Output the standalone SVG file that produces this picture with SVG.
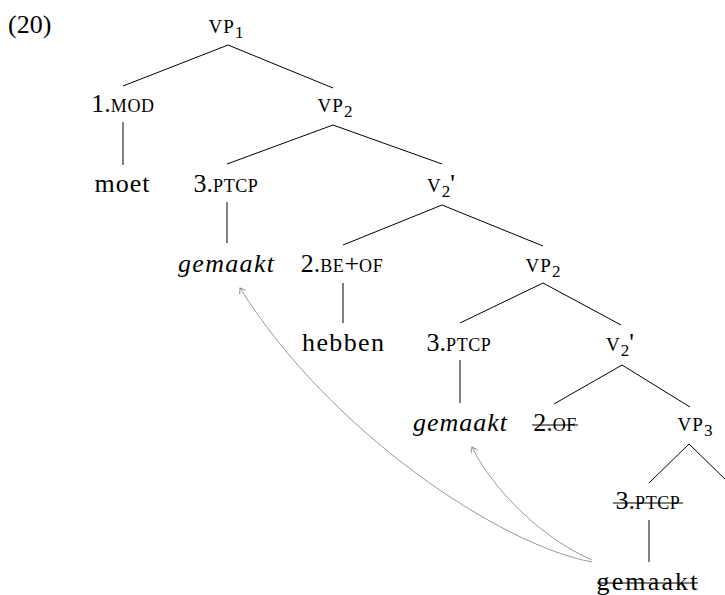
<svg xmlns="http://www.w3.org/2000/svg" width="725" height="595" viewBox="0 0 725 595">
<style>
.t{font-size:26px;fill:#000;text-anchor:middle}
.l{text-anchor:start}
.it{font-style:italic}
.sc{font-size:18px;letter-spacing:0.6px}
.vp{font-size:19px;letter-spacing:1.2px}
.sub{font-size:17px}
.e{stroke:#000;stroke-width:1;fill:none}
.strike{stroke:#000;stroke-width:1}
.a{stroke:#8c8c8c;stroke-width:0.9;fill:none;marker-end:url(#ah)}
</style>
<defs>
<marker id="ah" viewBox="-7 -5 9 10" refX="0" refY="0" markerWidth="9" markerHeight="10" markerUnits="userSpaceOnUse" orient="auto" overflow="visible">
<path d="M -5 -3.6 Q -1.6 -1 0 0 Q -1.6 1 -5 3.6" fill="none" stroke="#8c8c8c" stroke-width="0.9"/>
</marker>
</defs>
<rect width="725" height="595" fill="#fff"/>
<g font-family="Liberation Serif, DejaVu Serif, serif">
<g id="label"><text class="t l" x="8" y="33">(20)</text></g>
<g id="connectors">
<line class="e" x1="228" y1="45" x2="123" y2="86"/>
<line class="e" x1="228" y1="45" x2="333" y2="88"/>
<line class="e" x1="123" y1="122" x2="123" y2="165"/>
<line class="e" x1="333" y1="125" x2="227" y2="164"/>
<line class="e" x1="333" y1="125" x2="442" y2="164"/>
<line class="e" x1="227" y1="202" x2="227" y2="243"/>
<line class="e" x1="442" y1="205" x2="343" y2="245"/>
<line class="e" x1="442" y1="205" x2="543" y2="246"/>
<line class="e" x1="343" y1="283" x2="343" y2="323"/>
<line class="e" x1="543" y1="283" x2="460" y2="323"/>
<line class="e" x1="543" y1="283" x2="621" y2="325"/>
<line class="e" x1="460" y1="360" x2="460" y2="403"/>
<line class="e" x1="622" y1="365" x2="554" y2="404"/>
<line class="e" x1="622" y1="365" x2="690" y2="407"/>
<line class="e" x1="689" y1="444" x2="649" y2="483"/>
<line class="e" x1="689" y1="444" x2="729" y2="483"/>
<line class="e" x1="649" y1="520" x2="649" y2="562"/>
<path class="a" d="M 592 562 C 500 545, 330 432, 240 288"/>
<path class="a" d="M 592 560 C 545 540, 494 492, 472 447"/>
</g>
<g id="vp1"><text class="t" x="226" y="33"><tspan class="vp">VP</tspan><tspan class="sub" dy="5">1</tspan></text></g>
<g id="mod"><text class="t" x="123" y="112">1.<tspan class="sc">MOD</tspan></text></g>
<g id="vp2a"><text class="t" x="335" y="112"><tspan class="vp">VP</tspan><tspan class="sub" dy="5">2</tspan></text></g>
<g id="moet"><text class="t" x="122" y="192" textLength="55" lengthAdjust="spacing">moet</text></g>
<g id="ptcp1"><text class="t" x="226" y="192">3.<tspan class="sc">PTCP</tspan></text></g>
<g id="v2bar1"><text class="t" x="441" y="192"><tspan class="vp">V</tspan><tspan class="sub" dy="5">2</tspan><tspan dy="-5">'</tspan></text></g>
<g id="gemaakt1"><text class="t it" x="226" y="272" textLength="96" lengthAdjust="spacing">gemaakt</text></g>
<g id="beof"><text class="t" x="342" y="272">2.<tspan class="sc">BE</tspan>+<tspan class="sc">OF</tspan></text></g>
<g id="vp2b"><text class="t" x="543" y="272"><tspan class="vp">VP</tspan><tspan class="sub" dy="5">2</tspan></text></g>
<g id="hebben"><text class="t" x="343" y="351" textLength="82" lengthAdjust="spacing">hebben</text></g>
<g id="ptcp2"><text class="t" x="459" y="351">3.<tspan class="sc">PTCP</tspan></text></g>
<g id="v2bar2"><text class="t" x="620" y="351"><tspan class="vp">V</tspan><tspan class="sub" dy="5">2</tspan><tspan dy="-5">'</tspan></text></g>
<g id="gemaakt2"><text class="t it" x="460" y="431" textLength="94" lengthAdjust="spacing">gemaakt</text></g>
<g id="of"><text class="t" x="555" y="431">2.<tspan class="sc">OF</tspan></text><line class="strike" x1="532" y1="425" x2="578" y2="425"/></g>
<g id="vp3"><text class="t" x="695" y="431"><tspan class="vp">VP</tspan><tspan class="sub" dy="5">3</tspan></text></g>
<g id="ptcp3"><text class="t" x="648" y="509">3.<tspan class="sc">PTCP</tspan></text><line class="strike" x1="613" y1="503" x2="683" y2="503"/></g>
<g id="gemaakt3"><text class="t" x="647" y="590" textLength="101" lengthAdjust="spacing">gemaakt</text><line class="strike" x1="597" y1="583" x2="698" y2="583"/></g>
</g>
</svg>
